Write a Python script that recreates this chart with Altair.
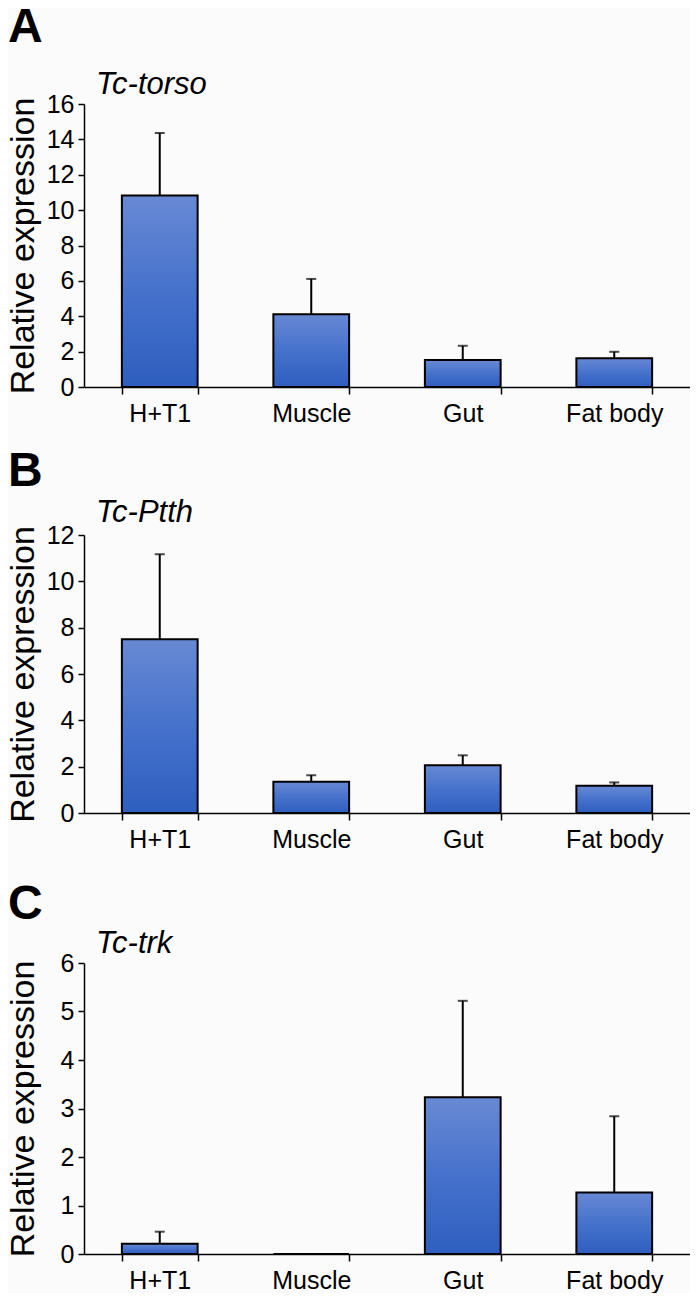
import altair as alt
import pandas as pd

categories = ["H+T1", "Muscle", "Gut", "Fat body"]

torso_mean = [10.82, 4.12, 1.52, 1.63]
torso_upper = [14.36, 6.11, 2.33, 1.99]

ptth_mean = [7.50, 1.35, 2.06, 1.18]
ptth_upper = [11.17, 1.63, 2.49, 1.32]

trk_mean = [0.21, 0.0, 3.23, 1.27]
trk_upper = [0.46, 0.0, 5.22, 2.84]

FONT = "Liberation Sans"
PLOT_W = 606

gradient = alt.LinearGradient(
    gradient="linear",
    stops=[
        alt.GradientStop(color="#6889d4", offset=0),
        alt.GradientStop(color="#4672cc", offset=0.5),
        alt.GradientStop(color="#2e5ebf", offset=1),
    ],
    x1=0, x2=0, y1=0, y2=1,
)


def panel(letter, gene, means, uppers, ymax, step, height, letter_y, title_y):
    df = pd.DataFrame({"tissue": categories, "mean": means, "upper": uppers})
    base = alt.Chart(df)

    x = alt.X(
        "tissue:N",
        sort=categories,
        title=None,
        scale=alt.Scale(paddingInner=0.5, paddingOuter=0.25),
        axis=alt.Axis(
            labelAngle=0, labelFont=FONT, labelFontSize=25, labelColor="black",
            labelPadding=7, tickSize=7, tickWidth=1.5, tickColor="black",
            domainColor="black", domainWidth=1.5, tickBand="extent", grid=False,
        ),
    )

    def make_y(field):
        return alt.Y(
            field,
            scale=alt.Scale(domain=[0, ymax], nice=False, zero=True),
            axis=alt.Axis(
                values=list(range(0, ymax + 1, step)), format="d",
                title="Relative expression", titleFont=FONT, titleFontSize=34,
                titleFontWeight="normal", titleColor="black",
                titleX=-44, titleY=height / 2,
                labelFont=FONT, labelFontSize=25, labelColor="black", labelPadding=4,
                tickSize=6, tickWidth=1.5, tickColor="black",
                domainColor="black", domainWidth=1.5, grid=False,
            ),
        )

    bars = base.mark_bar(color=gradient, stroke="black", strokeWidth=2).encode(
        x=x, y=make_y("mean:Q")
    )
    err = (
        base.transform_filter("datum.upper > datum.mean")
        .mark_rule(color="black", strokeWidth=2)
        .encode(x=x, y=make_y("mean:Q"), y2="upper:Q")
    )
    cap = (
        base.transform_filter("datum.upper > datum.mean")
        .mark_tick(color="black", thickness=2, size=10)
        .encode(x=x, y=make_y("upper:Q"))
    )
    letter_t = (
        alt.Chart(pd.DataFrame({"t": [letter]}))
        .mark_text(font=FONT, fontSize=48, fontWeight="bold", align="left",
                   baseline="alphabetic", color="black")
        .encode(text="t:N", x=alt.value(-76), y=alt.value(letter_y))
    )
    gene_t = (
        alt.Chart(pd.DataFrame({"t": [gene]}))
        .mark_text(font=FONT, fontSize=31, fontStyle="italic", align="left",
                   baseline="alphabetic", color="black")
        .encode(text="t:N", x=alt.value(12), y=alt.value(title_y))
    )
    return alt.layer(bars, err, cap, letter_t, gene_t).properties(
        width=PLOT_W, height=height
    )


pa = panel("A", "Tc-torso", torso_mean, torso_upper, 16, 2, 283, -62, -10)
pb = panel("B", "Tc-Ptth", ptth_mean, ptth_upper, 12, 2, 278, -49, -13)
pc = panel("C", "Tc-trk", trk_mean, trk_upper, 6, 1, 291, -44, -10)

chart = (
    alt.vconcat(pa, alt.vconcat(pb, pc, spacing=29), spacing=22)
    .properties(
        padding={"left": -3, "top": -4, "right": 0, "bottom": 0},
        background="#fbfbfb",
    )
    .configure_view(strokeWidth=0)
)

chart.save("out.html", embed_options={"renderer": "svg", "actions": False})
